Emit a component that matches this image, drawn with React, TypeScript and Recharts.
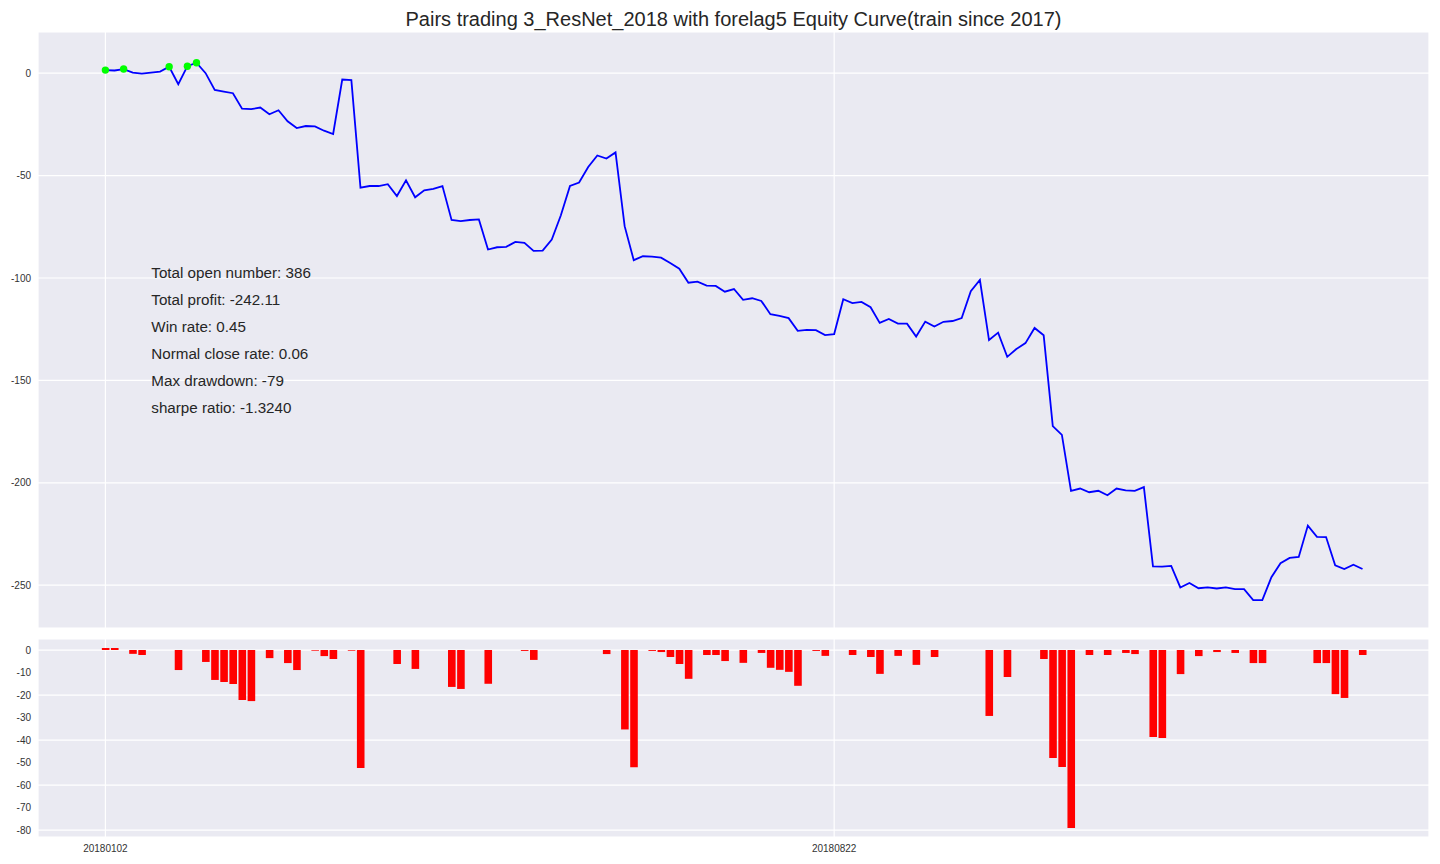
import React from 'react';
import {
  ComposedChart,
  Line,
  Bar,
  XAxis,
  YAxis,
  CartesianGrid,
} from 'recharts';

// Equity curve values (one per trading day)
const equity = [
  1.5, 1.3, 2.0, 0.3, -0.2, 0.3, 0.8, 3.1, -5.4, 3.4,
  5.1, 0, -8.2, -9.0, -9.8, -17.3, -17.6, -16.8, -20.1, -18.1,
  -23.5, -26.8, -25.8, -26.0, -28.1, -29.7, -3.1, -3.4, -55.9, -55.1,
  -55.1, -54.2, -60.0, -52.3, -60.6, -57.2, -56.5, -55.1, -71.7, -72.2,
  -71.7, -71.4, -86.1, -85.0, -84.8, -82.4, -82.8, -86.8, -86.6, -81.2,
  -69.4, -55.1, -53.4, -45.8, -40.2, -41.7, -38.7, -74.7, -91.3, -89.4,
  -89.6, -90.1, -92.7, -95.5, -102.3, -101.8, -103.7, -103.9, -106.7, -105.4,
  -110.7, -109.9, -111.2, -117.7, -118.5, -119.6, -125.8, -125.3, -125.5, -127.9,
  -127.4, -110.4, -112.3, -111.7, -114.3, -121.9, -120.0, -122.3, -122.3, -128.6,
  -121.3, -123.7, -121.4, -121.0, -119.6, -106.5, -101.0, -130.3, -126.7, -138.5,
  -134.7, -131.8, -124.4, -128.0, -172.3, -176.6, -203.9, -202.8, -204.6, -203.9,
  -206.1, -202.8, -203.7, -203.9, -202.1, -240.8, -240.9, -240.6, -251.1, -248.9,
  -251.5, -251.1, -251.6, -251.1, -251.9, -251.9, -257.3, -257.3, -246.1, -239.3,
  -236.7, -236.2, -220.9, -226.4, -226.5, -240.3, -242.1, -240.0, -242.1,
];

// Drawdown bars (same days)
const drawdown = [
  0.9, 0.9, 0, -1.7, -2.2, 0, 0, 0, -8.9, 0,
  0, -5.3, -13.3, -14.2, -15.1, -22.2, -22.7, 0, -3.6, 0,
  -5.8, -8.9, 0, -0.3, -2.7, -4.0, 0, -0.3, -52.4, 0,
  0, 0, -6.2, 0, -8.4, 0, 0, 0, -16.4, -17.3,
  0, 0, -15.0, 0, 0, 0, -0.4, -4.4, 0, 0,
  0, 0, 0, 0, 0, -1.8, 0, -35.3, -52.1, 0,
  -0.4, -0.9, -3.1, -6.2, -12.8, 0, -2.2, -2.2, -4.9, 0,
  -5.7, 0, -1.3, -7.9, -8.8, -9.7, -15.9, 0, -0.4, -2.6,
  0, 0, -2.2, 0, -3.1, -10.6, 0, -2.6, 0, -6.6,
  0, -3.1, 0, 0, 0, 0, 0, -29.3, 0, -12.0,
  0, 0, 0, -4.0, -48.0, -52.0, -79.1, 0, -2.2, 0,
  -2.2, 0, -1.3, -1.8, 0, -38.7, -39.1, 0, -10.7, 0,
  -2.7, 0, -0.9, 0, -1.3, 0, -5.8, -5.8, 0, 0,
  0, 0, 0, -5.8, -5.8, -19.6, -21.3, 0, -2.2,
];

// Days marked with green dots (new highs)
const highIdx = [0, 2, 7, 9, 10];

// X tick positions (day index) and their date labels
const xTickIdx = [0, 80];
const xTickLabels = ['20180102', '20180822'];

const equityTicks = [-250, -200, -150, -100, -50, 0];
const drawdownTicks = [-80, -70, -60, -50, -40, -30, -20, -10, 0];

const title = 'Pairs trading 3_ResNet_2018 with forelag5 Equity Curve(train since 2017)';
const statLines = [
  'Total open number: 386',
  'Total profit: -242.11',
  'Win rate: 0.45',
  'Normal close rate: 0.06',
  'Max drawdown: -79',
  'sharpe ratio: -1.3240',
];

const rows = equity.map((v, i) => ({
  i,
  equity: v,
  high: highIdx.includes(i) ? v : null,
  dd: drawdown[i],
}));

const FONT = "Arial, 'Liberation Sans', sans-serif";
const BG = '#EAEAF2';
const X_DOMAIN: [number, number] = [-7.4, 145.3];

const fmtX = (v: number) => {
  const k = xTickIdx.indexOf(v);
  return k >= 0 ? xTickLabels[k] : '';
};
const blank = () => '';

export default function App() {
  return (
    <div style={{ position: 'absolute', left: 0, top: 0, width: 1440, height: 864, background: '#fff', fontFamily: FONT }}>
      <div style={{ position: 'absolute', left: 0, top: 0 }}>
        <ComposedChart width={1440} height={628} data={rows} margin={{ top: 32, right: 11, bottom: 0, left: 0 }}>
          <CartesianGrid fill={BG} stroke="#ffffff" strokeWidth={1.2} />
          <XAxis
            dataKey="i"
            type="number"
            domain={X_DOMAIN}
            ticks={xTickIdx}
            allowDataOverflow
            tickFormatter={blank}
            tickLine={false}
            axisLine={false}
            height={0}
          />
          <YAxis
            type="number"
            domain={[-270.9, 20.1]}
            ticks={equityTicks}
            allowDataOverflow
            width={38}
            tickLine={false}
            axisLine={false}
            tickSize={5}
            tickMargin={2}
            tick={{ fontSize: 10, fill: '#333', fontFamily: FONT }}
          />
          <Line
            dataKey="equity"
            stroke="#0000ff"
            strokeWidth={1.8}
            dot={false}
            isAnimationActive={false}
          />
          <Line
            dataKey="high"
            stroke="none"
            dot={{ r: 3.7, fill: '#00ff00', stroke: 'none' }}
            isAnimationActive={false}
          />
        </ComposedChart>
      </div>
      <div style={{ position: 'absolute', left: 0, top: 600 }}>
        <ComposedChart width={1440} height={264} data={rows} margin={{ top: 39, right: 11, bottom: 0, left: 0 }}>
          <CartesianGrid fill={BG} stroke="#ffffff" strokeWidth={1.2} />
          <XAxis
            dataKey="i"
            type="number"
            domain={X_DOMAIN}
            ticks={xTickIdx}
            allowDataOverflow
            tickFormatter={fmtX}
            tickLine={false}
            axisLine={false}
            height={27}
            tick={{ fontSize: 10, fill: '#333', fontFamily: FONT }}
          />
          <YAxis
            type="number"
            domain={[-83.1, 4.9]}
            ticks={drawdownTicks}
            allowDataOverflow
            width={38}
            tickLine={false}
            axisLine={false}
            tickSize={5}
            tickMargin={2}
            tick={{ fontSize: 10, fill: '#333', fontFamily: FONT }}
          />
          <Bar dataKey="dd" fill="#ff0000" barSize={7.6} isAnimationActive={false} />
        </ComposedChart>
      </div>
      <svg width={1440} height={864} style={{ position: 'absolute', left: 0, top: 0, pointerEvents: 'none' }}>
        <text x={733.5} y={26} textAnchor="middle" fontSize={20} fill="#262626" fontFamily={FONT}>
          {title}
        </text>
        {statLines.map((s, k) => (
          <text key={s} x={151.3} y={277.7 + 27 * k} fontSize={15.2} fill="#262626" fontFamily={FONT}>
            {s}
          </text>
        ))}
      </svg>
    </div>
  );
}
